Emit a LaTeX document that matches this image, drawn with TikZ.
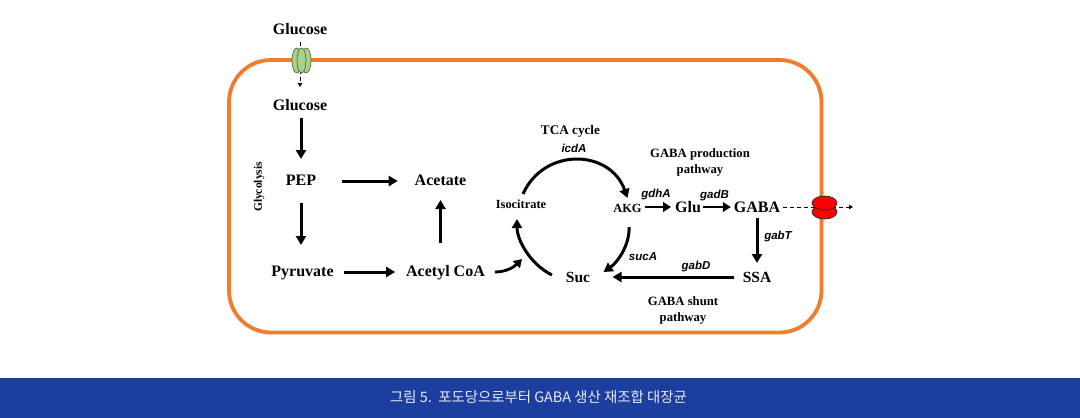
\documentclass[tikz,border=0pt]{standalone}
\usepackage{fontspec}
\setmainfont{Liberation Serif}
\setsansfont{Liberation Sans}
\newfontfamily\krfont{Noto Sans CJK KR}
\usetikzlibrary{arrows.meta}
\definecolor{membrane}{HTML}{F07C2C}
\definecolor{band}{HTML}{1C3E9E}
\definecolor{capt}{HTML}{E8EBF5}
\definecolor{chgreen}{HTML}{A9D18E}
\definecolor{chedge}{HTML}{4F6B3C}
\tikzset{
  big/.style={inner sep=0pt,outer sep=0pt,text height=11pt,text depth=3pt,font=\fontsize{16}{18}\selectfont\bfseries},
  mid/.style={inner sep=0pt,outer sep=0pt,text height=9pt,text depth=3pt,font=\fontsize{12.4}{14}\selectfont\bfseries},
  note/.style={inner sep=0pt,outer sep=0pt,align=center,font=\fontsize{12.7}{16}\selectfont\bfseries},
  enz/.style={inner sep=0pt,outer sep=0pt,font=\fontsize{11.5}{13}\selectfont\sffamily\bfseries\itshape},
  arr/.style={line width=3pt,-{Triangle[length=9pt,width=10pt]}},
  thinarr/.style={line width=2.8pt,-{Triangle[length=8pt,width=9.5pt]}},
  dashline/.style={line width=0.9pt,dash pattern=on 4pt off 3pt,-{Triangle[length=4pt,width=4.5pt]}},
}
\begin{document}
\begin{tikzpicture}[x=1pt,y=-1pt]
\useasboundingbox (0,0) rectangle (1080,418);
\fill[white] (0,0) rectangle (1080,418);
\fill[band] (0,378) rectangle (1080,418);
\draw[membrane,line width=3.8pt,rounded corners=42pt] (229,60) rectangle (821.5,332.5);

\node[big] (glca) at (300,30) {Glucose};
\node[big] (glcb) at (300,106) {Glucose};
\node[big] (pep) at (301,181) {PEP};
\node[big] (ace) at (440.5,181) {Acetate};
\node[big] (pyr) at (302.5,272) {Pyruvate};
\node[big] (aco) at (445.5,272) {Acetyl CoA};
\node[big,font=\fontsize{15.5}{18}\selectfont\bfseries] (suc) at (578,278) {Suc};
\node[big,font=\fontsize{15.5}{18}\selectfont\bfseries] (ssa) at (757,278) {SSA};
\node[big] (glu) at (688,208) {Glu};
\node[big] (gaba) at (757,208) {GABA};
\node[mid] (iso) at (521,205) {Isocitrate};
\node[mid] (akg) at (627.5,209) {AKG};

\node[note,font=\fontsize{13.2}{16}\selectfont\bfseries] (tca) at (570.5,131) {TCA cycle};
\node[note] (prod) at (700,162) {GABA production\\pathway};
\node[note] (shunt) at (683,310) {GABA shunt\\pathway};
\node[note,rotate=90,font=\fontsize{11.5}{13}\selectfont\bfseries] (gly) at (259,187) {Glycolysis};

\node[enz] (icd) at (574,148) {icdA};
\node[enz] (gdh) at (656,195) {gdhA};
\node[enz] (gad) at (714.5,196) {gadB};
\node[enz] (gabt) at (778,237) {gabT};
\node[enz] (sca) at (643,257) {sucA};
\node[enz] (gabd) at (696,267) {gabD};

\coordinate (entry) at (522,259);
\coordinate (out) at (853,207);

\node[font=\krfont\fontsize{14.4}{16}\selectfont,text=capt,inner sep=0pt] (cap) at (538.5,397) {그림 5.\ \ 포도당으로부터 GABA 생산 재조합 대장균};

% connectors
\draw[dashline] ([shift={(0,5)}]glca.south) -- ([shift={(0,-12)}]glcb.north);
\draw[dashline] ([shift={(3,-1)}]gaba.east) -- (out);
\draw[arr] ([shift={(1,5)}]glcb.south) -- ([shift={(0,-15)}]pep.north);
\draw[arr] ([shift={(0,15)}]pep.south) -- ([shift={(0,-20)}]pep.south |- pyr.north);
\draw[arr] ([shift={(26,0)}]pep.east) -- ([shift={(-17,0)}]ace.west);
\draw[arr] ([shift={(10,0)}]pyr.east) -- ([shift={(-11,0)}]aco.west);
\draw[arr] ([shift={(0,-22)}]aco.north -| ace.south) -- ([shift={(0,12)}]ace.south);
\draw[thinarr] ([shift={(10,0)}]aco.east) .. controls (505,272) and (513,268) .. (entry);
\draw[arr] ([shift={(2,-5)}]iso.north) .. controls (544,147) and (610,149) .. ([shift={(0,-5)}]akg.north);
\draw[arr] ([shift={(1.5,12)}]akg.south) .. controls (630,244) and (618,262) .. ([shift={(13.5,-6)}]suc.east);
\draw[arr] ([shift={(-14,-3)}]suc.west) .. controls (530,264) and (517,240) .. ([shift={(-4,8)}]iso.south);
\draw[thinarr] ([shift={(3,-2)}]akg.east) -- ([shift={(-4,-1)}]glu.west);
\draw[thinarr] ([shift={(2,-1)}]glu.east) -- ([shift={(-3,-1)}]gaba.west);
\draw[arr] ([shift={(0,3)}]gaba.south) -- ([shift={(0,-8)}]ssa.north);
\draw[arr] ([shift={(-9,-1)}]ssa.west) -- ([shift={(22.5,-1)}]suc.east);

% glucose channel
\begin{scope}[draw=chedge,fill=chgreen,line width=0.7pt]
\filldraw (296.8,60.5) ellipse [x radius=4.8pt,y radius=12.5pt];
\filldraw (306.2,60.5) ellipse [x radius=4.8pt,y radius=12.5pt];
\filldraw (301.5,60.5) ellipse [x radius=4.5pt,y radius=12.5pt];
\end{scope}
% export channel
\begin{scope}[draw=black!85,fill=red,line width=0.7pt]
\filldraw (824.5,212) ellipse [x radius=12.5pt,y radius=7pt];
\filldraw (824.5,203) ellipse [x radius=12.5pt,y radius=7pt];
\end{scope}
\end{tikzpicture}
\end{document}
